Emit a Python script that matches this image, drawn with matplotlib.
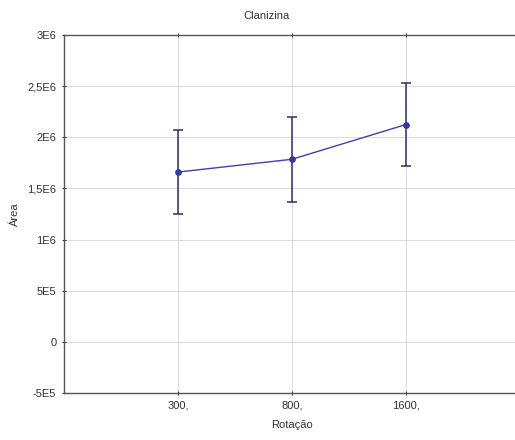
import matplotlib.pyplot as plt

# Mean area per rotation level with error bar half-widths
rotacao = ['300,', '800,', '1600,']
area_media = [1.66e6, 1.785e6, 2.125e6]
area_erro = [0.41e6, 0.415e6, 0.41e6]

yticks = [-5e5, 0, 5e5, 1e6, 1.5e6, 2e6, 2.5e6, 3e6]
ytick_labels = ['-5E5', '0', '5E5', '1E6', '1,5E6', '2E6', '2,5E6', '3E6']

plt.rcParams['font.family'] = ['Liberation Sans', 'DejaVu Sans']

fig = plt.figure(figsize=(5.15, 4.4), dpi=100)
# axes run slightly past the right edge of the figure
ax = fig.add_axes([64 / 515, 1 - 393 / 440, 456 / 515, 358 / 440])

x = range(len(rotacao))
ax.errorbar(x, area_media, yerr=area_erro, color='#4040b0', ecolor='#2e2e70',
            elinewidth=1.1, capsize=3.5, capthick=1.1, lw=1.0,
            marker='o', ms=3.8, mfc='#3a3ab0', mec='#30309a', zorder=3)

ax.set_xlim(-1, 3)
ax.set_ylim(-5e5, 3e6)
ax.set_xticks(list(x))
ax.set_xticklabels(rotacao)
ax.set_yticks(yticks)
ax.set_yticklabels(ytick_labels)
ax.tick_params(labelsize=8, colors='#333333', length=3, direction='inout',
               top=True, pad=4)
ax.grid(True, color='#dcdcdc', lw=0.8)
ax.set_axisbelow(True)

for side in ['left', 'bottom', 'top']:
    ax.spines[side].set_color('#555555')
    ax.spines[side].set_linewidth(1.0)
ax.spines['right'].set_visible(False)

ax.set_xlabel('Rotação', fontsize=8, color='#333333', labelpad=7)
ax.set_ylabel('Área', fontsize=8, color='#333333', labelpad=5)
fig.text(266 / 515, 1 - 16 / 440, 'Clanizina', ha='center', va='center',
         fontsize=8, color='#333333')

fig.savefig('out.png', dpi=100)
